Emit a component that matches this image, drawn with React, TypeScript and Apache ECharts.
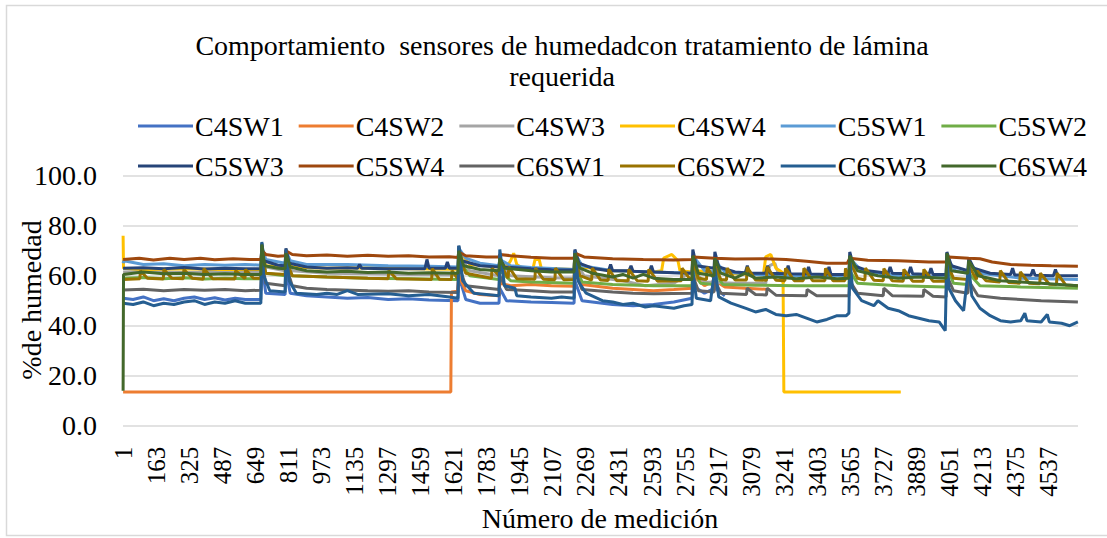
import React, { useEffect, useRef } from "react";
import * as echarts from "echarts";

const TITLE_LINE_1 = "Comportamiento  sensores de humedadcon tratamiento de lámina";
const TITLE_LINE_2 = "requerida";
const X_TITLE = "Número de medición";
const Y_TITLE = "%de humedad";

const N_MEASUREMENTS = 4680;
const measurements: string[] = Array.from({ length: N_MEASUREMENTS }, (_, i) => String(i + 1));

const seriesNames = [
  "C4SW1", "C4SW2", "C4SW3", "C4SW4", "C5SW1", "C5SW2",
  "C5SW3", "C5SW4", "C6SW1", "C6SW2", "C6SW3", "C6SW4",
];
const seriesColors = [
  "#4472C4", "#ED7D31", "#A5A5A5", "#FFC000", "#5B9BD5", "#70AD47",
  "#264478", "#9E480E", "#636363", "#997300", "#255E91", "#43682B",
];

// [measurement number, % humedad]
const c4sw1 = [[1,51],[50,50.5],[100,51.5],[150,50],[200,50.8],[250,50],[300,51],[350,51.5],[400,50.5],[450,51.2],[500,50.3],[550,51],[600,50.5],[676,50.5],[681,65],[700,53],[795,52.5],[799,62],[820,53],[900,52],[1000,51.5],[1100,51],[1200,51.3],[1300,50.5],[1400,50.8],[1500,50.3],[1642,50],[1646,60],[1680,50.5],[1750,49],[1843,49],[1847,55],[1880,50],[2000,49.5],[2100,49.3],[2211,49],[2215,58],[2250,50],[2400,48.5],[2500,48],[2600,48.5],[2700,49.5],[2789,51],[2793,56],[2850,53],[2901,55],[2950,52]];
const c4sw2 = [[1,13.5],[1607,13.5],[1610,53.5],[1640,53.8],[1646,60],[1680,54],[1750,52.5],[1843,52],[1847,57],[1900,56],[2000,56.5],[2100,56],[2211,55.8],[2215,62],[2250,56.5],[2400,55],[2500,54.5],[2600,54],[2700,54.5],[2789,55],[2793,60],[2850,56],[2901,58],[2950,55.5],[3050,55],[3170,54.5]];
const c4sw3 = [[1,61.5],[100,61.8],[300,61.3],[500,61.6],[676,61.5],[681,70],[700,63.5],[795,62],[799,68],[830,62],[1000,61],[1200,60.8],[1400,60.5],[1642,60.3],[1646,68],[1700,62],[1843,60],[1847,64],[1900,60],[2100,59.2],[2211,59],[2215,66],[2260,60],[2450,58],[2560,56],[2700,57],[2793,62],[2850,57.5],[3000,57],[3150,57],[3170,64],[3195,65],[3215,60],[3239,57]];
const c4sw4 = [[1,76],[3,63],[100,62.5],[300,62.8],[500,62.5],[676,62.5],[681,71],[700,64],[795,63.5],[799,69],[830,63.5],[1000,63],[1200,63.2],[1400,62.8],[1642,62.6],[1646,70],[1700,64.5],[1843,63.5],[1847,66],[1880,63.5],[1900,66],[1915,69],[1930,64.5],[1960,63],[2010,63],[2020,66.5],[2040,66.5],[2050,63],[2211,62.5],[2215,69],[2250,63.5],[2400,62],[2600,61.5],[2640,62],[2650,67],[2690,68.5],[2720,66],[2730,62],[2789,61.5],[2793,67],[2810,62],[2897,61.5],[2901,65.5],[2920,61],[3100,60.5],[3140,61],[3150,67.5],[3175,68.5],[3200,63],[3220,62],[3235,61],[3239,13.5],[3812,13.5]];
const c5sw1 = [[1,65],[5,66],[100,64.5],[200,64.8],[300,64],[400,64.5],[500,64.2],[600,64.5],[676,64.2],[681,72],[700,66.5],[795,65],[799,70],[820,66],[900,64.5],[1100,64.5],[1300,64],[1500,63.8],[1642,63.5],[1646,71],[1680,67],[1750,65],[1843,64],[1847,66.5],[1900,64],[2000,63.3],[2211,62.5],[2215,69],[2250,64],[2400,62],[2600,61.5],[2789,61],[2793,68],[2850,62],[2897,61.5],[2901,66],[2950,61.5],[3100,60.5],[3300,60],[3558,60],[3562,67],[3620,62],[3800,60],[4034,59.5],[4038,67],[4080,62],[4141,61],[4145,65],[4200,61],[4400,59],[4680,58.5]];
const c5sw2 = [[1,59],[100,59.3],[200,58.8],[300,59.2],[400,58.7],[500,59],[600,58.8],[676,58.8],[681,68],[700,61],[795,60],[799,65],[830,60],[1000,59.5],[1200,59],[1400,58.8],[1642,58.5],[1646,66],[1700,60],[1843,58.5],[1847,62],[1900,58],[2000,57.5],[2211,57],[2215,64],[2250,57.5],[2400,56.5],[2600,56],[2789,56],[2793,63],[2830,57],[2897,56.5],[2901,61],[2940,56.5],[3100,56.2],[3300,56],[3558,56],[3562,62],[3600,57],[3800,56],[4034,55.5],[4038,64],[4070,57],[4141,56.5],[4145,61],[4200,56],[4400,55.5],[4680,55]];
const c5sw3 = [[1,63],[100,63.2],[200,62.8],[300,63.3],[400,62.7],[500,63],[600,62.8],[676,62.8],[681,73],[690,66],[760,64.2],[795,64],[799,71],[815,65],[900,63.5],[1000,63],[1100,63.2],[1150,63],[1160,64.5],[1170,63],[1300,62.8],[1480,62.8],[1490,66.5],[1500,63],[1580,63],[1590,65.5],[1600,63],[1642,63],[1646,72],[1660,66],[1750,64],[1843,63.5],[1847,67],[1870,63.5],[2000,62.8],[2100,62.4],[2211,62.3],[2215,70.5],[2235,65],[2300,63],[2380,62],[2390,64.5],[2400,62],[2480,62],[2490,64],[2500,61.8],[2580,61.5],[2590,64],[2600,61.5],[2700,61.2],[2789,61],[2793,70.5],[2810,64],[2897,63],[2901,69.5],[2920,63.5],[3000,61.5],[3050,61.2],[3060,64],[3070,61],[3150,61],[3160,64],[3170,61],[3250,60.8],[3260,64],[3270,60.8],[3350,60.7],[3360,63.5],[3370,60.7],[3450,60.5],[3460,63.5],[3470,60.5],[3558,60.5],[3562,69.5],[3580,64],[3650,62],[3750,61],[3760,63.5],[3770,61],[3850,60.8],[3860,63.5],[3870,60.8],[3950,60.5],[3960,63],[3970,60.5],[4034,60.5],[4038,69.5],[4060,64],[4141,62],[4145,67],[4170,63],[4250,61],[4350,60.5],[4360,63],[4370,60.3],[4450,60.2],[4460,62.5],[4470,60.2],[4560,60],[4570,62.5],[4580,60],[4680,60]];
const c5sw4 = [[1,66.5],[80,67],[150,66.3],[230,67],[300,66.5],[380,67],[450,66.4],[540,66.8],[620,66.5],[676,66.5],[681,70],[700,68.5],[760,67.8],[795,68],[799,70],[830,68.5],[900,68],[1000,68.3],[1100,67.8],[1200,68.2],[1300,67.8],[1400,68],[1500,67.5],[1600,67.6],[1642,67.3],[1646,69.5],[1680,68],[1780,67.5],[1843,67.5],[1847,68.5],[1900,68],[2000,67.4],[2100,67],[2211,67],[2215,69],[2260,67.5],[2400,66.8],[2550,66.5],[2700,66.3],[2790,66.5],[2793,67.5],[2900,67],[3000,66.7],[3150,66.8],[3250,66.5],[3350,65.8],[3450,65],[3550,65],[3562,67],[3650,66.2],[3800,66],[3950,65.5],[4038,65.5],[4045,67.5],[4145,67],[4200,66.8],[4260,65.5],[4350,64.5],[4450,64.2],[4550,64],[4680,63.8]];
const c6sw1 = [[1,54.3],[100,54.6],[200,54],[300,54.5],[400,54.2],[500,54.5],[600,54],[676,54.2],[681,66],[700,57],[795,56],[799,64],[830,56],[900,55],[1000,54.5],[1200,54],[1300,53.8],[1400,54],[1500,53.5],[1642,53.3],[1646,64],[1680,56],[1843,54.5],[1847,60],[1880,54.5],[2000,54],[2100,53.5],[2211,53.5],[2215,62],[2250,54.5],[2400,53.5],[2500,53],[2600,52.8],[2789,53],[2793,60],[2820,54],[2897,53.5],[2901,58],[2930,53],[3056,52.5],[3059,55],[3100,52.5],[3154,52.3],[3157,55],[3200,52.2],[3350,52],[3353,54.5],[3400,52],[3558,52],[3562,58],[3600,53],[3726,52],[3729,55],[3770,52],[3922,51.8],[3925,54.5],[3970,51.8],[4034,51.5],[4038,60],[4070,54],[4141,53],[4145,58],[4190,52],[4300,51],[4400,50.5],[4500,50],[4680,49.5]];
const c6sw2 = [[1,58.5],[83,58.8],[86,62],[120,59],[198,58.7],[201,62.5],[240,59],[296,58.8],[299,62.5],[340,59],[394,58.6],[397,62.8],[440,58.8],[549,58.7],[552,62],[598,58.8],[601,62.5],[640,59],[676,59],[681,70],[700,61],[795,60.5],[799,66],[830,60],[1000,59.5],[1200,59],[1300,58.8],[1303,62],[1340,58.8],[1513,58.5],[1516,62.8],[1550,58.6],[1610,58.5],[1613,62],[1642,58.6],[1646,68],[1680,61],[1806,59],[1809,63],[1843,60],[1847,65],[1888,59],[1891,63.5],[1930,58.8],[2019,58.6],[2022,63],[2060,58.6],[2117,58.4],[2120,63],[2160,58.4],[2211,58.5],[2215,67],[2240,60],[2297,58.2],[2300,63],[2340,58.3],[2378,58.1],[2381,62.5],[2420,58],[2476,58],[2479,62.5],[2520,58],[2574,57.8],[2577,62.5],[2620,57.8],[2737,58],[2740,63],[2775,59],[2789,58.5],[2793,66],[2820,59],[2860,58.5],[2863,63.5],[2897,58.8],[2901,64],[2930,58.5],[2958,58.3],[2961,63],[3000,58.3],[3056,58.3],[3059,63.5],[3100,58.3],[3154,58.2],[3157,63.5],[3200,58.2],[3244,58],[3247,63],[3290,58],[3334,58],[3337,63],[3380,58],[3440,58],[3443,63],[3480,58],[3538,58],[3541,63],[3558,59],[3562,66],[3600,59],[3636,58.3],[3639,63],[3680,58.2],[3726,58],[3729,62.8],[3770,58],[3824,57.8],[3827,62.5],[3870,57.8],[3922,57.8],[3925,62.5],[3970,57.8],[4034,57.8],[4038,65],[4070,59],[4141,58.5],[4145,64],[4183,58.5],[4186,62],[4230,58],[4297,57.5],[4300,62],[4340,57.3],[4395,57],[4398,61.5],[4440,57],[4493,56.8],[4496,61],[4540,56.6],[4575,56.5],[4578,61],[4620,56.3],[4680,56]];
const c6sw3 = [[1,49],[50,48.5],[100,49.5],[150,48],[200,49],[250,48.5],[300,49.5],[350,50],[400,48.5],[450,49.5],[500,49],[550,50],[600,49],[676,49],[681,73.5],[690,60],[720,54],[795,53.5],[799,70.5],[815,58],[850,53],[950,52.5],[1000,53],[1050,52.5],[1100,54],[1150,52.5],[1300,52.8],[1400,52],[1500,52.5],[1600,51.5],[1642,51],[1646,72],[1665,58],[1720,53],[1843,52],[1847,70.5],[1870,56],[1921,55],[1930,52],[2000,51.5],[2100,51],[2150,51.5],[2211,51],[2215,70],[2230,58],[2270,53],[2350,50],[2400,49.5],[2450,48.5],[2500,49],[2560,47.5],[2600,48],[2700,47],[2750,48],[2789,48.5],[2793,62],[2810,51],[2880,50],[2901,63],[2920,51.5],[2980,49],[3050,47],[3100,45.5],[3150,46.5],[3200,44.5],[3250,44],[3300,44.5],[3350,43],[3400,41.5],[3450,42.5],[3500,44],[3545,44],[3558,45],[3562,67.5],[3575,55],[3620,50],[3680,48],[3700,50],[3750,47],[3800,46],[3850,44],[3900,43],[3950,42],[4000,41.5],[4030,38],[4038,69],[4048,55],[4080,50],[4120,46],[4145,64],[4160,52],[4200,47],[4250,44],[4300,42],[4350,41.5],[4400,42],[4420,45],[4430,42],[4500,41.5],[4530,44.5],[4540,41.5],[4600,41],[4640,40],[4680,41.5]];
const c6sw4 = [[1,14],[3,60.5],[50,61],[100,61.5],[200,60.8],[300,61],[400,60.5],[500,60.8],[600,60.5],[676,60.5],[681,72.5],[695,64],[760,63],[795,62.8],[799,69],[820,63.5],[900,62],[1000,61.5],[1100,61.8],[1200,61.3],[1300,61.5],[1400,61],[1500,61.2],[1642,61],[1646,70],[1670,64],[1750,62.5],[1843,62],[1847,67],[1870,63],[2000,62],[2100,61.5],[2211,61.5],[2215,69],[2240,63],[2300,61],[2400,59.5],[2450,60.5],[2500,59],[2550,60.5],[2600,59],[2700,58.5],[2789,58.5],[2793,68],[2820,61],[2897,60],[2901,67],[2930,61],[3000,59],[3050,61],[3100,59],[3200,59.5],[3300,58.8],[3400,59.5],[3500,58.8],[3558,59],[3562,68],[3600,62],[3700,60],[3800,59],[3900,59.5],[4034,59],[4038,69],[4060,62],[4141,61],[4145,66],[4190,60],[4300,58],[4400,57.5],[4500,57],[4680,56]];

const seriesData = [c4sw1, c4sw2, c4sw3, c4sw4, c5sw1, c5sw2, c5sw3, c5sw4, c6sw1, c6sw2, c6sw3, c6sw4];

const yTicks = { min: 0, max: 100, interval: 20 };

const FONT = '"Liberation Serif", "Times New Roman", serif';
const TEXT_COLOR = "#000000";
const GRID_COLOR = "#d9d9d9";

export default function App() {
  const ref = useRef<HTMLDivElement>(null);

  useEffect(() => {
    if (!ref.current) return;
    const chart = echarts.init(ref.current, undefined, { renderer: "svg" });

    const legendBase = {
      left: 138,
      width: 1000,
      padding: 0,
      icon: "rect",
      itemWidth: 55,
      itemHeight: 3,
      itemGap: 15,
      orient: "horizontal" as const,
      textStyle: { fontFamily: FONT, fontSize: 28, color: TEXT_COLOR, lineHeight: 28, padding: [0, 0, 0, -3] },
      selectedMode: false,
    };

    chart.setOption({
      animation: false,
      backgroundColor: "#ffffff",
      grid: { left: 123, right: 29, top: 175.7, bottom: 112.3, containLabel: false },
      legend: [
        { ...legendBase, top: 112, data: seriesNames.slice(0, 6) },
        { ...legendBase, top: 152, data: seriesNames.slice(6) },
      ],
      xAxis: {
        type: "category",
        data: measurements,
        boundaryGap: true,
        axisLine: { show: false },
        axisTick: { show: false },
        splitLine: { show: false },
        axisLabel: {
          interval: 161,
          rotate: 90,
          margin: 21,
          fontFamily: FONT,
          fontSize: 25,
          color: TEXT_COLOR,
        },
      },
      yAxis: {
        type: "value",
        min: yTicks.min,
        max: yTicks.max,
        interval: yTicks.interval,
        axisLine: { show: false },
        axisTick: { show: false },
        splitLine: { show: true, lineStyle: { color: GRID_COLOR, width: 1.5 } },
        axisLabel: {
          margin: 26,
          fontFamily: FONT,
          fontSize: 28,
          color: TEXT_COLOR,
          formatter: (v: number) => v.toFixed(1),
        },
      },
      series: seriesNames.map((name, i) => ({
        name,
        type: "line",
        symbol: "none",
        showSymbol: false,
        color: seriesColors[i],
        itemStyle: { color: seriesColors[i] },
        lineStyle: { color: seriesColors[i], width: 3 },
        data: seriesData[i].map(([m, v]) => [m - 1, v]),
      })),
      graphic: [
        {
          type: "rect",
          shape: { x: 6.5, y: 5.5, width: 1110, height: 530 },
          style: { fill: "none", stroke: GRID_COLOR, lineWidth: 1.5 },
          silent: true,
          z: -10,
        },
        {
          type: "text",
          x: 562,
          y: 45,
          style: { text: TITLE_LINE_1, fill: TEXT_COLOR, fontFamily: FONT, fontSize: 28, textAlign: "center", textVerticalAlign: "middle" },
        },
        {
          type: "text",
          x: 562,
          y: 76,
          style: { text: TITLE_LINE_2, fill: TEXT_COLOR, fontFamily: FONT, fontSize: 28, textAlign: "center", textVerticalAlign: "middle" },
        },
        {
          type: "text",
          x: 31,
          y: 300,
          rotation: Math.PI / 2,
          style: { text: Y_TITLE, fill: TEXT_COLOR, fontFamily: FONT, fontSize: 28, textAlign: "center", textVerticalAlign: "middle" },
        },
        {
          type: "text",
          x: 600,
          y: 518,
          style: { text: X_TITLE, fill: TEXT_COLOR, fontFamily: FONT, fontSize: 28, textAlign: "center", textVerticalAlign: "middle" },
        },
      ],
    });

    return () => chart.dispose();
  }, []);

  return (
    <div
      ref={ref}
      style={{ position: "absolute", left: 0, top: 0, width: 1107, height: 538 }}
    />
  );
}
